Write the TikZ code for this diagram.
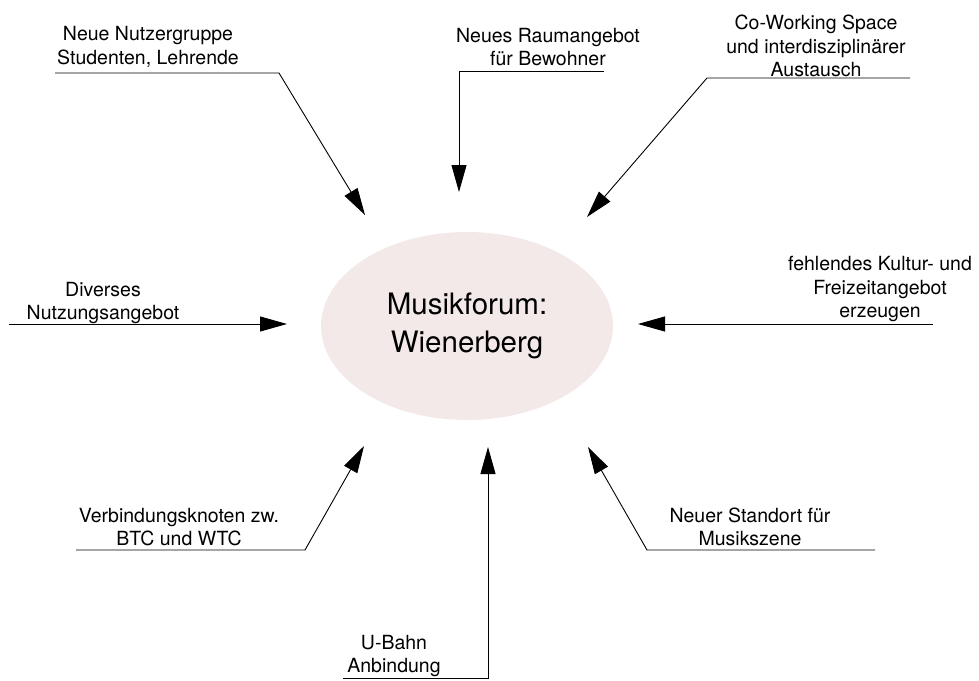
\documentclass[tikz,border=0pt]{standalone}
\usepackage{fontspec}
\setmainfont{TeX Gyre Heros}
\usetikzlibrary{shapes.geometric, arrows.meta}

\definecolor{forumrosa}{RGB}{244,233,233}

\begin{document}
\begin{tikzpicture}[x=1pt, y=-1pt, >={Triangle[length=27pt, width=15pt]},
    punkt/.style={inner sep=0pt, align=center, font=\fontsize{19.5}{23.5}\selectfont},
    pfeil/.style={draw, line width=0.9pt, ->},
    forum/.style={ellipse, fill=forumrosa, minimum width=292pt, minimum height=188pt, inner sep=0pt, align=center, font=\fontsize{29.5}{37.5}\selectfont}]
    \useasboundingbox (0,0) rectangle (979,680);
    \node[forum] (forum) at (467,326) {Musikforum:\\Wienerberg};
    % texts
    \node[punkt] (nutzer) at (148,47) {Neue Nutzergruppe\\Studenten, Lehrende};
    \node[punkt] (raum) at (548,47) {Neues Raumangebot\\für Bewohner};
    \node[punkt] (cowork) at (816,46) {Co-Working Space\\und interdisziplinärer\\Austausch};
    \node[punkt] (divers) at (103,303) {Diverses\\Nutzungsangebot};
    \node[punkt] (kultur) at (880,289) {fehlendes Kultur- und\\Freizeitangebot\\erzeugen};
    \node[punkt] (knoten) at (179,527) {Verbindungsknoten zw.\\BTC und WTC};
    \node[punkt] (ubahn) at (394,656) {U-Bahn\\Anbindung};
    \node[punkt] (standort) at (750,527) {Neuer Standort für\\Musikszene};
    % lines
    \coordinate (nutzer-a) at (55,73);   \coordinate (nutzer-b) at (279,73);   \coordinate (nutzer-t) at (365,215);
    \coordinate (raum-a) at (604,71);    \coordinate (raum-b) at (459,71);     \coordinate (raum-t) at (459,192);
    \coordinate (cowork-a) at (910,78);  \coordinate (cowork-b) at (707,78);   \coordinate (cowork-t) at (587,217);
    \coordinate (divers-a) at (9,324);   \coordinate (divers-t) at (287,324);
    \coordinate (kultur-a) at (933,324); \coordinate (kultur-t) at (638,324);
    \coordinate (knoten-a) at (76,550);  \coordinate (knoten-b) at (305,550);  \coordinate (knoten-t) at (364,446);
    \coordinate (ubahn-a) at (343,678);  \coordinate (ubahn-b) at (488,678);   \coordinate (ubahn-t) at (488,447);
    \coordinate (standort-a) at (875,550); \coordinate (standort-b) at (647,550); \coordinate (standort-t) at (588,447);
    \draw[pfeil] (nutzer-a) -- (nutzer-b) -- (nutzer-t);
    \draw[pfeil] (raum-a) -- (raum-b) -- (raum-t);
    \draw[pfeil] (cowork-a) -- (cowork-b) -- (cowork-t);
    \draw[pfeil] (divers-a) -- (divers-t);
    \draw[pfeil] (kultur-a) -- (kultur-t);
    \draw[pfeil] (knoten-a) -- (knoten-b) -- (knoten-t);
    \draw[pfeil] (ubahn-a) -- (ubahn-b) -- (ubahn-t);
    \draw[pfeil] (standort-a) -- (standort-b) -- (standort-t);
\end{tikzpicture}
\end{document}
